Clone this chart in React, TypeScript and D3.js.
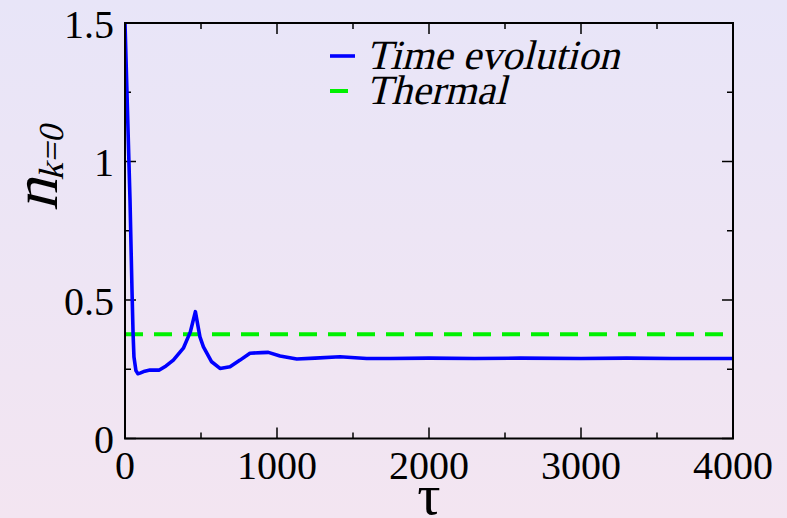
import React from "react";
import * as d3 from "d3";

const tauValues = [0, 33, 46, 53, 59, 72, 85, 99, 130, 164, 226, 270, 318, 384, 430, 463, 493, 516, 570, 625, 691, 757, 822, 900, 943, 1020, 1130, 1250, 1414, 1590, 1743, 2000, 2300, 2600, 3000, 3300, 3600, 4000];
const nValues = [1.5, 0.86, 0.536, 0.38, 0.294, 0.245, 0.234, 0.236, 0.243, 0.247, 0.247, 0.262, 0.283, 0.326, 0.385, 0.458, 0.367, 0.331, 0.277, 0.253, 0.259, 0.283, 0.308, 0.31, 0.311, 0.298, 0.287, 0.29, 0.295, 0.289, 0.289, 0.29, 0.289, 0.29, 0.289, 0.29, 0.289, 0.289];
const thermalValue = 0.376;
const xMajorTicks = [0, 1000, 2000, 3000, 4000];
const xMinorTicks = [500, 1500, 2500, 3500];
const yMajorTicks = [0, 0.5, 1, 1.5];
const yMinorTicks = [0.25, 0.75, 1.25];
const yTickLabels = ["0", "0.5", "1", "1.5"];
const legendLabels = ["Time evolution", "Thermal"];

const W = 787, H = 518;
const L = 125, R = 733, T = 23, B = 438.5;
const serif = "Liberation Serif";

export default function App() {
  const x = d3.scaleLinear().domain([0, 4000]).range([L, R]);
  const y = d3.scaleLinear().domain([0, 1.5]).range([B, T]);
  const line = d3.line<number>().x((_, i) => x(tauValues[i])).y((d) => y(d));
  const pathD = line(nValues) || "";
  const maj = 11, min = 6;

  return (
    <div style={{ position: "absolute", left: 0, top: 0 }}>
      <svg width={W} height={H} style={{ display: "block" }}>
        <defs>
          <linearGradient id="bg" x1="0" y1="0" x2="0" y2="1">
            <stop offset="0" stopColor="#e8e5f8" />
            <stop offset="1" stopColor="#f3e5f1" />
          </linearGradient>
          <clipPath id="plot">
            <rect x={L} y={T - 2} width={R - L} height={B - T + 2} />
          </clipPath>
        </defs>
        <rect x={0} y={0} width={W} height={H} fill="url(#bg)" />

        {/* ticks */}
        <g stroke="#000" strokeWidth={1.5}>
          {xMajorTicks.map((t) => (
            <g key={"xm" + t}>
              <line x1={x(t)} x2={x(t)} y1={B} y2={B - maj} />
              <line x1={x(t)} x2={x(t)} y1={T} y2={T + maj} />
            </g>
          ))}
          {xMinorTicks.map((t) => (
            <g key={"xn" + t}>
              <line x1={x(t)} x2={x(t)} y1={B} y2={B - min} />
              <line x1={x(t)} x2={x(t)} y1={T} y2={T + min} />
            </g>
          ))}
          {yMajorTicks.map((t) => (
            <g key={"ym" + t}>
              <line x1={L} x2={L + maj} y1={y(t)} y2={y(t)} />
              <line x1={R} x2={R - maj} y1={y(t)} y2={y(t)} />
            </g>
          ))}
          {yMinorTicks.map((t) => (
            <g key={"yn" + t}>
              <line x1={L} x2={L + min} y1={y(t)} y2={y(t)} />
              <line x1={R} x2={R - min} y1={y(t)} y2={y(t)} />
            </g>
          ))}
        </g>

        {/* thermal dashed line */}
        <line x1={L} x2={R} y1={y(thermalValue)} y2={y(thermalValue)} stroke="#00f000" strokeWidth={4} strokeDasharray="18 11" />

        {/* time evolution */}
        <path d={pathD} fill="none" stroke="#0000ff" strokeWidth={3.6} strokeLinejoin="round" clipPath="url(#plot)" />

        {/* frame */}
        <rect x={L} y={T} width={R - L} height={B - T} fill="none" stroke="#000" strokeWidth={2} />

        {/* tick labels */}
        <g fontFamily={serif} fontSize={40} fill="#000">
          {xMajorTicks.map((t) => (
            <text key={"xl" + t} x={x(t)} y={479} textAnchor="middle">{t}</text>
          ))}
          {yMajorTicks.map((t, i) => (
            <text key={"yl" + t} x={114} y={y(t) + 14.5} textAnchor="end">{yTickLabels[i]}</text>
          ))}
        </g>

        {/* axis labels */}
        <text x={(L + R) / 2} y={514} textAnchor="middle" fontFamily={serif} fontSize={58} fill="#000">τ</text>
        <g transform="translate(57,211) rotate(-90) skewX(-14)">
          <text x={0} y={0} fontFamily={serif} fontSize={64} fill="#000">
            n
            <tspan fontSize={35} dy={6}>k=0</tspan>
          </text>
        </g>

        {/* legend */}
        <line x1={330} x2={355} y1={56} y2={56} stroke="#0000ff" strokeWidth={3.6} />
        <line x1={330} x2={348} y1={91} y2={91} stroke="#00f000" strokeWidth={4} />
        <g fontFamily={serif} fontSize={41.5} fill="#000">
          <g transform="translate(366,69) skewX(-14)">
            <text x={0} y={0}>{legendLabels[0]}</text>
          </g>
          <g transform="translate(366,104) skewX(-14)">
            <text x={0} y={0}>{legendLabels[1]}</text>
          </g>
        </g>
      </svg>
    </div>
  );
}
